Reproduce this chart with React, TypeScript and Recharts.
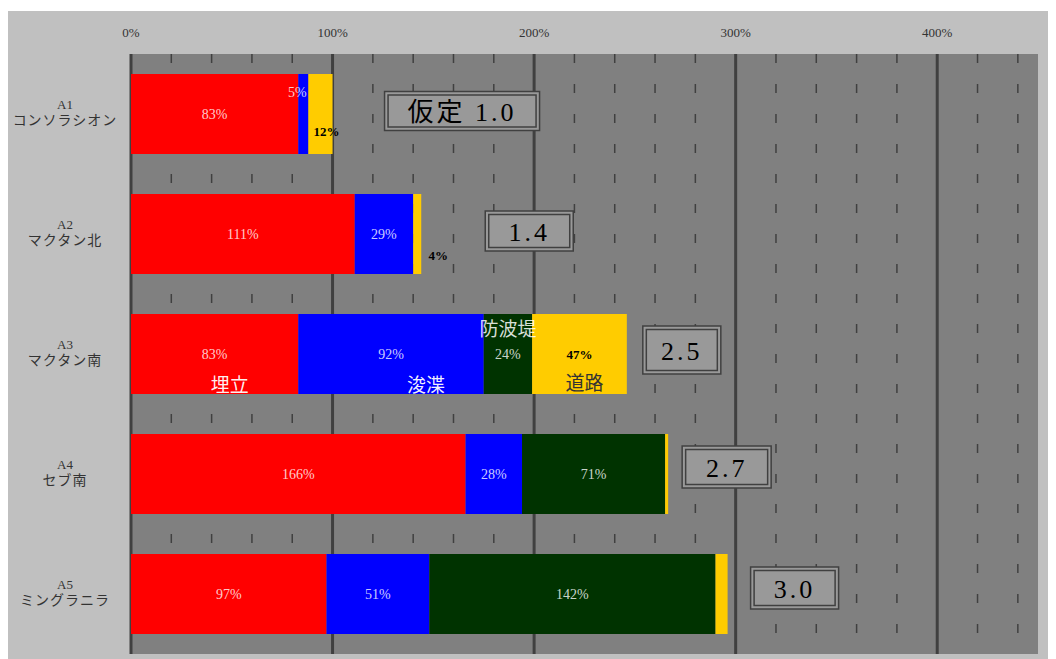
import React from "react";
import { BarChart, Bar, XAxis, YAxis, CartesianGrid, LabelList } from "recharts";

const sites = ["A1", "A2", "A3", "A4", "A5"];
const siteNames = ["コンソラシオン", "マクタン北", "マクタン南", "セブ南", "ミングラニラ"];
const reclaim = [83, 111, 83, 166, 97];
const dredge = [5, 29, 92, 28, 51];
const breakwater = [0, 0, 24, 71, 142];
const road = [12, 4, 47, 1.5, 6];
const roadLabelShown = [true, true, true, false, false];
const ratioLabels = ["仮定 1.0", "1.4", "2.5", "2.7", "3.0"];
const seriesNames = ["埋立", "浚渫", "防波堤", "道路"];
const namedSite = "A3";
const majorTicks = [0, 100, 200, 300, 400];
const minorTicks = [20, 40, 60, 80, 120, 140, 160, 180, 220, 240, 260, 280, 320, 340, 360, 380, 420, 440];

const seriesValues: Record<string, number[]> = { reclaim, dredge, breakwater, road };

const data = sites.map((s, i) => ({
  site: s,
  reclaim: reclaim[i],
  dredge: dredge[i],
  breakwater: breakwater[i],
  road: road[i],
}));

const FONT = "'Liberation Serif', 'Noto Sans CJK JP', serif";

// label placement tweaks (px, relative to segment center)
const pctStyle: Record<string, { dx: number[]; dy: number[]; dark?: boolean }> = {
  reclaim: { dx: [0, 0, 0, 0, 0], dy: [0, 0, 0, 0, 0] },
  dredge: { dx: [-6, 0, 0, 0, 0], dy: [-22, 0, 0, 0, 0] },
  breakwater: { dx: [0, 0, 0, 0, 0], dy: [0, 0, 0, 0, 0] },
  road: { dx: [6, 21, 0, 0, 0], dy: [17, 21, 0, 0, 0], dark: true },
};
const nameStyle = [
  { dx: 15, dy: 29, fill: "#ffffff", op: 0.95 },
  { dx: 35, dy: 29, fill: "#ffffff", op: 0.95 },
  { dx: 0, dy: -27, fill: "#ffffff", op: 0.85 },
  { dx: 5, dy: 27, fill: "#333333", op: 1 },
];
const boxStyle = [
  { dx: 52, dy: -3, w: 155, h: 39 },
  { dx: 64, dy: -3, w: 88, h: 40 },
  { dx: 16, dy: -4, w: 78, h: 48 },
  { dx: 14, dy: -7, w: 89, h: 42 },
  { dx: 23, dy: -6, w: 88, h: 42 },
];

const geom = (p: any) => {
  const vb = p.viewBox && p.viewBox.width !== undefined ? p.viewBox : p;
  return { x: Number(vb.x), y: Number(vb.y), w: Number(vb.width), h: Number(vb.height) };
};

// zero-width segments may be skipped, so find the row from the value
const rowOf = (key: string, p: any) => {
  const arr = seriesValues[key];
  const v = Number(p.value);
  return arr[p.index] === v ? p.index : arr.indexOf(v);
};

const pctLabel = (key: string, seriesIdx: number) => (p: any) => {
  const v = Number(p.value);
  if (!v) return null;
  const i = rowOf(key, p);
  if (key === "road" && !roadLabelShown[i]) return null;
  const { x, y, w, h } = geom(p);
  const st = pctStyle[key];
  const cx = x + w / 2 + st.dx[i];
  const cy = y + h / 2 + st.dy[i];
  const pct = (
    <text
      x={cx}
      y={cy}
      textAnchor="middle"
      dominantBaseline="central"
      fontFamily={FONT}
      fontSize={st.dark ? 13 : 14}
      fontWeight={st.dark ? "bold" : "normal"}
      fill={st.dark ? "#000" : "#fff"}
      fillOpacity={st.dark ? 1 : 0.8}
    >
      {`${v}%`}
    </text>
  );
  if (sites[i] !== namedSite) return pct;
  const ns = nameStyle[seriesIdx];
  return (
    <g>
      {pct}
      <text
        x={x + w / 2 + ns.dx}
        y={y + h / 2 + ns.dy}
        textAnchor="middle"
        dominantBaseline="central"
        fontFamily="'Noto Sans CJK JP', sans-serif"
        fontSize={19}
        fill={ns.fill}
        fillOpacity={ns.op}
      >
        {seriesNames[seriesIdx]}
      </text>
    </g>
  );
};

const ratioBox = (p: any) => {
  const i = rowOf("road", p);
  const { x, y, w, h } = geom(p);
  const b = boxStyle[i];
  const bx = x + w + b.dx;
  const cy = y + h / 2 + b.dy;
  const top = cy - b.h / 2;
  return (
    <g>
      <rect x={bx} y={top} width={b.w} height={b.h} fill="#999999" stroke="#404040" strokeWidth={1.5} />
      <rect x={bx + 3.5} y={top + 3.5} width={b.w - 7} height={b.h - 7} fill="none" stroke="#404040" strokeWidth={1.5} />
      <text
        x={bx + b.w / 2}
        y={cy + 1}
        textAnchor="middle"
        dominantBaseline="central"
        fontFamily={FONT}
        fontSize={26}
        letterSpacing={3}
        fill="#000"
      >
        {ratioLabels[i]}
      </text>
    </g>
  );
};

const SiteTick = (props: any) => {
  const { y, payload } = props;
  const i = sites.indexOf(payload.value);
  return (
    <g>
      <text x={57} y={y - 10} textAnchor="middle" dominantBaseline="central" fontFamily={FONT} fontSize={13} fill="#333">
        {payload.value}
      </text>
      <text x={57} y={y + 6} textAnchor="middle" dominantBaseline="central" fontFamily={FONT} fontSize={14} letterSpacing={1} fill="#333">
        {siteNames[i]}
      </text>
    </g>
  );
};

export default function App() {
  return (
    <div style={{ width: 1048, height: 648, marginTop: 3, background: "#c0c0c0" }}>
      <BarChart
        width={1048}
        height={648}
        data={data}
        layout="vertical"
        margin={{ top: 13, right: 18, bottom: 5, left: 0 }}
        barSize={80}
      >
        <CartesianGrid
          horizontal={false}
          verticalValues={minorTicks}
          fill="#808080"
          fillOpacity={1}
          stroke="#404040"
          strokeWidth={1.5}
          strokeDasharray="9 21"
        />
        <CartesianGrid horizontal={false} verticalValues={majorTicks} stroke="#404040" strokeWidth={3} />
        <XAxis
          type="number"
          orientation="top"
          domain={[0, 450]}
          ticks={majorTicks}
          interval={0}
          height={30}
          axisLine={false}
          tickLine={false}
          tickSize={0}
          tickMargin={17}
          tickFormatter={(v: number) => `${v}%`}
          tick={{ fontFamily: FONT, fontSize: 13, fill: "#333" }}
        />
        <YAxis
          type="category"
          dataKey="site"
          width={123}
          axisLine={false}
          tickLine={false}
          tick={<SiteTick />}
        />
        <Bar dataKey="reclaim" stackId="s" fill="#ff0000" isAnimationActive={false}>
          <LabelList dataKey="reclaim" content={pctLabel("reclaim", 0)} />
        </Bar>
        <Bar dataKey="dredge" stackId="s" fill="#0000ff" isAnimationActive={false}>
          <LabelList dataKey="dredge" content={pctLabel("dredge", 1)} />
        </Bar>
        <Bar dataKey="breakwater" stackId="s" fill="#003300" isAnimationActive={false}>
          <LabelList dataKey="breakwater" content={pctLabel("breakwater", 2)} />
        </Bar>
        <Bar dataKey="road" stackId="s" fill="#ffcc00" isAnimationActive={false}>
          <LabelList dataKey="road" content={pctLabel("road", 3)} />
          <LabelList dataKey="road" content={ratioBox} />
        </Bar>
      </BarChart>
    </div>
  );
}
